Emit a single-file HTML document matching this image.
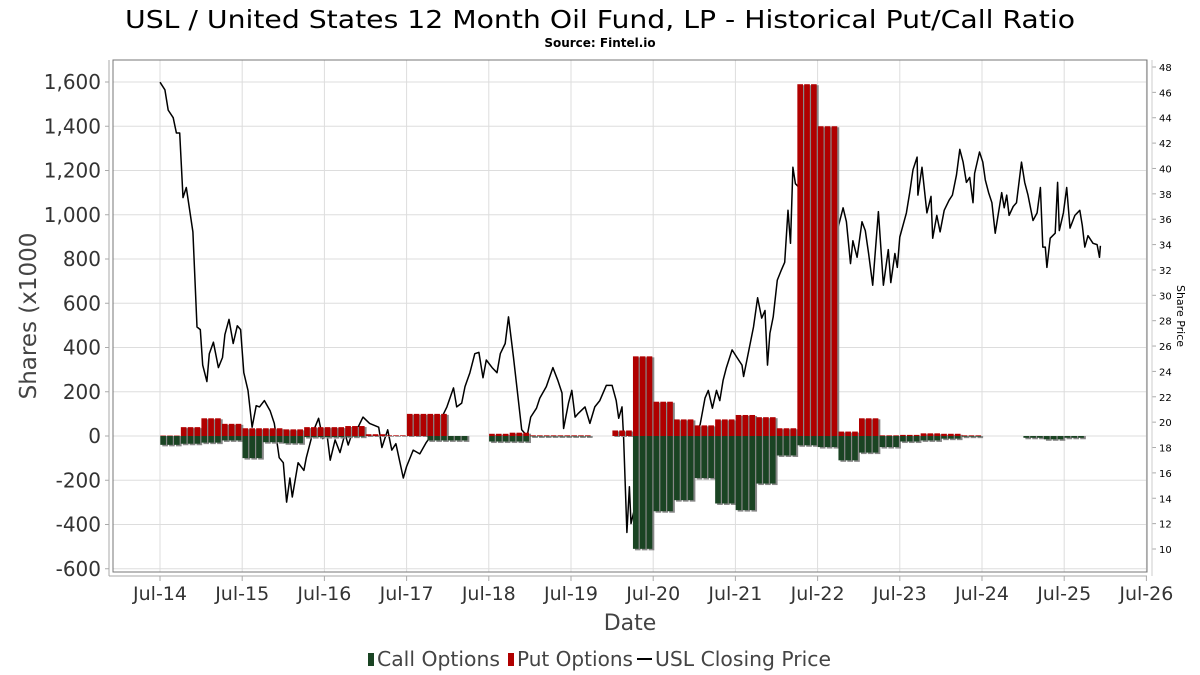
<!DOCTYPE html>
<html><head><meta charset="utf-8"><style>
body{margin:0;background:#fff;width:1200px;height:675px;overflow:hidden}
svg{display:block;font-family:"DejaVu Sans","Liberation Sans",sans-serif}
</style></head><body>
<svg id="chart" width="1200" height="675" viewBox="0 0 1200 675" xmlns="http://www.w3.org/2000/svg">
<text x="600" y="28" text-anchor="middle" font-size="25" fill="#000" textLength="950" lengthAdjust="spacingAndGlyphs">USL / United States 12 Month Oil Fund, LP - Historical Put/Call Ratio</text>
<text x="600" y="47" text-anchor="middle" font-size="12" font-weight="bold" fill="#000">Source: Fintel.io</text>
<g id="grid"></g>
<g id="price"></g>
<g id="bars"></g>
<g id="axes"></g>
<text transform="translate(36,316) rotate(-90)" text-anchor="middle" font-size="23" fill="#444">Shares (x1000</text>
<text transform="translate(1177,316) rotate(90)" text-anchor="middle" font-size="11" fill="#000">Share Price</text>
<text x="630" y="630" text-anchor="middle" font-size="22" fill="#444">Date</text>
<g>
<g><rect x="368" y="653" width="6" height="13" fill="#1a4423"/><text x="377" y="666" font-size="20" fill="#444" textLength="123" lengthAdjust="spacingAndGlyphs">Call Options</text></g>
<g><rect x="508" y="653" width="6" height="13" fill="#b00000"/><text x="517" y="666" font-size="20" fill="#444" textLength="116" lengthAdjust="spacingAndGlyphs">Put Options</text></g>
<g><line x1="637" y1="659" x2="652" y2="659" stroke="#000" stroke-width="2"/><text x="655" y="666" font-size="20" fill="#444" textLength="176" lengthAdjust="spacingAndGlyphs">USL Closing Price</text></g>
</g>
</svg>
<script>
// Quarterly option data starting Q3 2014 (thousands of shares)
const quarterStarts = ["2014Q3","2014Q4","2015Q1","2015Q2","2015Q3","2015Q4","2016Q1","2016Q2","2016Q3","2016Q4","2017Q1","2017Q2","2017Q3","2017Q4","2018Q1","2018Q2","2018Q3","2018Q4","2019Q1","2019Q2","2019Q3","2019Q4","2020Q1","2020Q2","2020Q3","2020Q4","2021Q1","2021Q2","2021Q3","2021Q4","2022Q1","2022Q2","2022Q3","2022Q4","2023Q1","2023Q2","2023Q3","2023Q4","2024Q1","2024Q2","2024Q3","2024Q4","2025Q1","2025Q2","2025Q3"];
const putValues = [2,40,80,55,35,35,30,40,40,45,8,3,100,100,0,0,10,15,3,3,3,0,25,360,155,75,48,75,95,85,35,1590,1400,20,80,3,5,12,10,3,0,0,0,0,0];
const callValues = [-40,-35,-30,-20,-100,-28,-33,-5,-5,-3,0,0,0,-20,-20,0,-25,-25,-2,-2,-2,0,0,-510,-340,-290,-190,-305,-335,-215,-88,-42,-50,-110,-75,-50,-25,-20,-12,-3,0,0,-8,-15,-8];
// Price series: date as years since 2000, closing price
const priceDates = [14.50,14.56,14.60,14.66,14.70,14.74,14.78,14.82,14.90,14.95,14.99,15.02,15.07,15.10,15.15,15.21,15.26,15.29,15.34,15.39,15.44,15.48,15.52,15.57,15.62,15.67,15.71,15.77,15.84,15.89,15.95,16.00,16.04,16.08,16.11,16.18,16.25,16.28,16.36,16.43,16.48,16.53,16.57,16.63,16.69,16.75,16.79,16.85,16.91,16.97,17.05,17.16,17.20,17.27,17.32,17.37,17.42,17.46,17.50,17.58,17.66,17.74,17.87,17.99,18.07,18.11,18.17,18.21,18.27,18.33,18.38,18.43,18.47,18.54,18.60,18.64,18.70,18.74,18.80,18.86,18.90,18.94,18.97,19.01,19.08,19.12,19.20,19.28,19.34,19.39,19.41,19.47,19.51,19.55,19.59,19.67,19.73,19.79,19.85,19.93,20.00,20.05,20.08,20.12,20.14,20.18,20.21,20.23,20.34,20.58,20.83,21.01,21.07,21.13,21.17,21.22,21.27,21.31,21.35,21.39,21.46,21.52,21.58,21.60,21.64,21.68,21.72,21.77,21.82,21.86,21.89,21.92,21.96,22.01,22.06,22.10,22.14,22.17,22.20,22.23,22.35,22.47,22.63,22.74,22.81,22.85,22.90,22.93,22.98,23.04,23.08,23.12,23.17,23.24,23.30,23.36,23.39,23.44,23.47,23.50,23.58,23.62,23.66,23.71,23.72,23.77,23.83,23.88,23.90,23.95,23.99,24.04,24.10,24.14,24.19,24.23,24.27,24.31,24.35,24.39,24.41,24.47,24.51,24.54,24.58,24.62,24.66,24.74,24.77,24.80,24.83,24.88,24.92,24.98,25.02,25.06,25.12,25.17,25.21,25.24,25.27,25.29,25.33,25.39,25.42,25.44,25.49,25.53,25.57,25.63,25.69,25.72,25.75,25.79,25.85,25.90,25.93,25.94];
const priceValues = [46.8,46.2,44.6,44.0,42.8,42.8,37.7,38.5,35.0,27.5,27.3,24.5,23.2,25.4,26.3,24.3,25.1,26.9,28.1,26.2,27.6,27.3,23.9,22.5,19.6,21.3,21.2,21.7,20.9,19.9,17.2,16.8,13.7,15.6,14.1,16.8,16.2,17.2,19.2,20.3,18.7,19.1,17.0,18.6,17.6,19.1,18.2,19.4,19.6,20.4,19.9,19.6,18.0,19.4,17.8,18.3,16.8,15.6,16.5,17.8,17.5,18.4,19.6,21.2,22.7,21.2,21.5,22.8,23.9,25.4,25.5,23.5,24.9,24.3,23.9,25.4,26.2,28.3,25.1,21.7,19.4,19.1,19.0,20.4,21.1,21.9,22.8,24.3,23.3,22.3,19.5,21.5,22.5,20.4,20.7,21.2,19.9,21.2,21.7,22.9,22.9,21.7,20.3,21.2,18.8,11.3,14.9,12.0,15,17,18,19,19.8,21.9,22.5,21.1,22.5,21.7,23.3,24.3,25.7,25.1,24.5,23.6,24.9,26.2,27.5,29.8,28.2,28.8,24.5,27.0,28.3,31.2,32.0,32.6,36.7,34.1,40.1,38.8,38,36,36.5,35.1,36.9,35.8,32.5,34.3,33.0,35.8,35.1,33.3,30.8,36.6,30.8,33.6,31.0,33.3,32.2,34.6,36.5,38.1,39.9,40.9,37.9,40.1,36.5,37.8,34.5,36.3,35.0,36.7,37.5,37.9,39.5,41.5,40.5,38.9,39.3,37.3,39.6,41.3,40.5,39.1,38.1,37.3,34.9,38.1,36.9,37.9,36.3,37.0,37.3,40.5,38.9,37.9,35.9,36.5,38.5,33.8,33.8,32.2,34.5,34.9,38.9,35.1,36.5,38.5,35.3,36.3,36.7,35.5,33.8,34.7,34.1,34.0,33.0,33.9];
const yTicks = [-600,-400,-200,0,200,400,600,800,1000,1200,1400,1600];
const y2Ticks = [10,12,14,16,18,20,22,24,26,28,30,32,34,36,38,40,42,44,46,48];
const xTickYears = [14,15,16,17,18,19,20,21,22,23,24,25,26];

const NS="http://www.w3.org/2000/svg";
const L=113,R=1147,T=60,B=572;
function xS(yr){return 160+(yr-14.5)*82.2;}
function yS(v){return 436-v*0.22125;}
function y2S(p){return 67+(48-p)*12.684;}
function mk(tag,attrs,parent){const e=document.createElementNS(NS,tag);for(const k in attrs)e.setAttribute(k,attrs[k]);parent.appendChild(e);return e;}
const grid=document.getElementById('grid'),axes=document.getElementById('axes'),bars=document.getElementById('bars'),price=document.getElementById('price');

mk('rect',{x:L,y:T,width:R-L,height:B-T,fill:'#fff'},grid);
yTicks.forEach(v=>{
  const y=yS(v);
  const g=mk('line',{x1:L,x2:R,y1:y,y2:y,stroke:'#ddd','stroke-width':1},grid);
  
  
  mk('line',{x1:105,x2:109,y1:y,y2:y,stroke:'#aaa'},axes);
  const t=mk('text',{x:101,y:y+7,'text-anchor':'end','font-size':20,fill:'#333'},axes);
  t.textContent=v.toLocaleString('en-US');
  
  
});
xTickYears.forEach(yr=>{
  const x=xS(yr+0.5);
  const g=mk('line',{x1:x,x2:x,y1:T,y2:B,stroke:'#ddd'},grid);
  
  
  mk('line',{x1:x,x2:x,y1:576,y2:581,stroke:'#aaa'},axes);
  const t=mk('text',{x:x,y:600,'text-anchor':'middle','font-size':19,fill:'#333'},axes);
  t.textContent='Jul-'+yr;
  
  
});
y2Ticks.forEach(p=>{
  const y=y2S(p);
  mk('line',{x1:1152,x2:1156,y1:y,y2:y,stroke:'#aaa'},axes);
  const t=mk('text',{x:1159,y:y+4,'font-size':10,fill:'#000'},axes);
  t.textContent=p;
  
  
});
mk('rect',{x:L,y:T,width:R-L,height:B-T,fill:'none',stroke:'#777','stroke-width':1},axes);
mk('line',{x1:109,x2:109,y1:T,y2:576,stroke:'#aaa'},axes);
mk('line',{x1:109,x2:R,y1:576,y2:576,stroke:'#aaa'},axes);
mk('line',{x1:1152,x2:1152,y1:T,y2:576,stroke:'#ccc'},axes);

// price line
let d='';
priceDates.forEach((t,i)=>{d+=(i?'L':'M')+xS(t).toFixed(1)+' '+y2S(priceValues[i]).toFixed(1);});
const pl=mk('path',{d:d,fill:'none',stroke:'#000','stroke-width':1.5,'stroke-linejoin':'round'},price);



// bars: each quarter expanded to three monthly bars
const mw=82.2/12;
quarterStarts.forEach((q,qi)=>{
  const yr=parseInt(q.slice(2,4)), qn=parseInt(q.slice(5));
  for(let m=0;m<3;m++){
    const t=yr+(qn-1)*0.25+m/12;
    const x=xS(t)+0.3, w=mw-1.2;
    const pv=putValues[qi], cv=callValues[qi];
    if(pv>0){
      mk('rect',{x:x+2,y:yS(pv)+1,width:w,height:yS(0)-yS(pv),fill:'#888'},bars);
      const r=mk('rect',{x:x,y:yS(pv),width:w,height:yS(0)-yS(pv),fill:'#b00000'},bars);
      
      
    }
    if(cv<0){
      mk('rect',{x:x+2,y:yS(0),width:w,height:yS(cv)-yS(0)+1.5,fill:'#888'},bars);
      const r=mk('rect',{x:x,y:yS(0),width:w,height:yS(cv)-yS(0),fill:'#1a4423'},bars);
      
      
    }
  }
});
</script>
</body></html>
